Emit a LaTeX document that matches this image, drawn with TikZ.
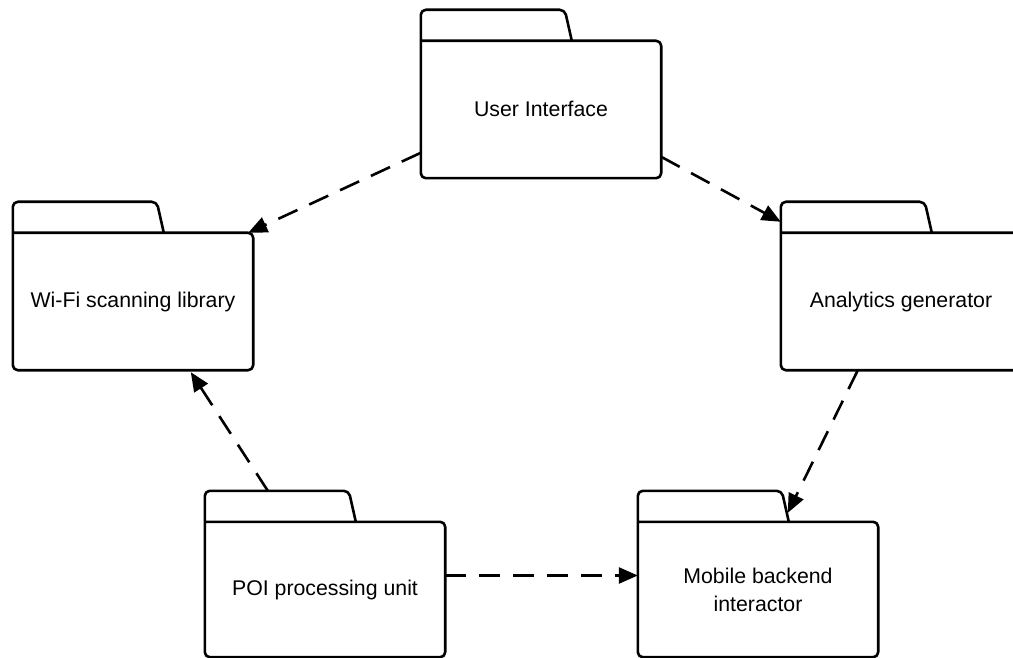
\documentclass[tikz,border=0pt]{standalone}
\usepackage{fontspec}
\setmainfont{Liberation Sans}
\usetikzlibrary{arrows.meta,calc}
\tikzset{
  pkgbody/.style={rectangle, draw=none, minimum width=240pt, minimum height=137pt,
    inner sep=0pt, align=center, font=\fontsize{21.3}{28}\selectfont},
  pkgline/.style={line width=2.6pt, rounded corners=5pt, line join=round},
  depend/.style={line width=2.6pt, dash pattern=on 21pt off 13pt,
    -{Triangle[length=19pt,width=16pt]}, shorten >=0pt},
}
\newcommand\folderoutline[1]{%
  \draw[pkgline] (#1.north west) -- (#1.north east) -- (#1.south east) -- (#1.south west)
    -- ([yshift=31pt]#1.north west) -- ([xshift=144pt,yshift=31pt]#1.north west)
    -- ([xshift=151pt]#1.north west);%
}
\begin{document}
\begin{tikzpicture}[x=1pt,y=-1pt]
\useasboundingbox (0,0) rectangle (1013,658);
\fill[white] (0,0) rectangle (1013,658);
\node[pkgbody] (ui)   at (541,109.5) {\raisebox{2pt}{User Interface}};
\node[pkgbody] (wifi) at (133,301.5) {Wi-Fi scanning library};
\node[pkgbody] (ana)  at (901,301.5) {Analytics generator};
\node[pkgbody, minimum height=135pt] (poi)  at (325,589.5) {POI processing unit};
\node[pkgbody, minimum height=135pt] (mob)  at (758,589.5) {Mobile backend\\interactor};
\folderoutline{ui}
\folderoutline{wifi}
\folderoutline{ana}
\folderoutline{poi}
\folderoutline{mob}
\draw[depend] ([yshift=-112pt]ui.north west) -- ([xshift=-5pt]wifi.north east);
\draw[depend] ([yshift=-116pt]ui.north east) -- ([yshift=11pt]ana.north west);
\draw[depend] ([xshift=77pt]ana.south west) -- ([xshift=150pt,yshift=9pt]mob.north west);
\draw[depend] ([xshift=63pt,yshift=31pt]poi.north west) -- ([xshift=178pt,yshift=-2pt]wifi.south west);
\draw[depend] ([yshift=14pt]poi.east) -- ([yshift=14pt]mob.west);
\end{tikzpicture}
\end{document}
